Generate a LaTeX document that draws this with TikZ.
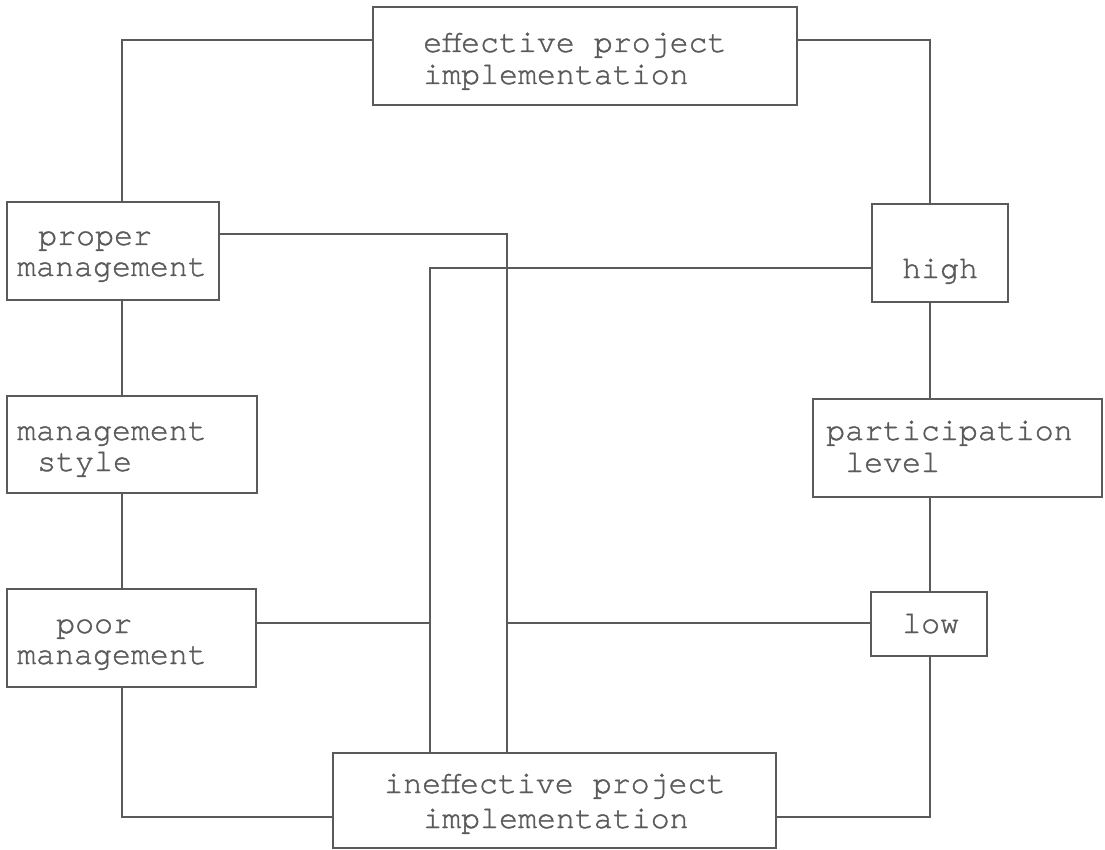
\documentclass[tikz,border=0pt]{standalone}
\usepackage{fontspec}
\newfontfamily\tw{texgyrecursor-regular.otf}[FakeBold=1.2]
\definecolor{ink}{HTML}{5A5A5A}
\begin{document}
\begin{tikzpicture}[x=1pt,y=-1pt,
  box/.style={draw=ink, line width=1.8pt, rectangle, inner sep=0pt, outer sep=0pt},
  txt/.style={anchor=base west, inner sep=0pt, text=ink, font=\tw\fontsize{31.6}{32}\selectfont},
  wire/.style={draw=ink, line width=1.8pt}]
\useasboundingbox (0,0) rectangle (1105,850);
\fill[white] (0,0) rectangle (1105,850);
% boxes
\node[box, minimum width=424pt, minimum height=98pt] (eff) at (585,56) {};
\node[box, minimum width=212pt, minimum height=98pt] (prop) at (113,251) {};
\node[box, minimum width=250pt, minimum height=97pt] (mstyle) at (132,444.5) {};
\node[box, minimum width=249pt, minimum height=98pt] (poor) at (131.5,638) {};
\node[box, minimum width=136pt, minimum height=98pt] (high) at (940,253) {};
\node[box, minimum width=289pt, minimum height=98pt] (part) at (957.5,448) {};
\node[box, minimum width=116pt, minimum height=64pt] (low) at (929,624) {};
\node[box, minimum width=443pt, minimum height=95pt] (ineff) at (554.5,800.5) {};
% texts
\node[txt] (effA) at (423,52) {effective project};
\node[txt] (effB) at (423,84) {implementation};
\node[txt] (propA) at (38,245) {proper};
\node[txt] (propB) at (17,276) {management};
\node[txt] (msA) at (17,440) {management};
\node[txt] (msB) at (37,471) {style};
\node[txt] (poorA) at (56,633) {poor};
\node[txt] (poorB) at (17,664) {management};
\node[txt] (highA) at (902,278) {high};
\node[txt] (partA) at (826,440) {participation};
\node[txt] (partB) at (845,472) {level};
\node[txt] (lowA) at (902,633) {low};
\node[txt] (inA) at (384,793) {ineffective project};
\node[txt] (inB) at (423,828) {implementation};
% helper coordinates
\coordinate (colL) at (122,0);
\coordinate (colR) at (930,0);
\coordinate (colA) at (430,0);
\coordinate (colB) at (507,0);
\coordinate (rowTop) at (0,40);
\coordinate (rowBot) at (0,817);
\coordinate (rowProp) at (0,234);
\coordinate (rowHigh) at (0,268);
\coordinate (rowLow) at (0,623);
% connectors
\draw[wire] (eff.west |- rowTop) -| (prop.north -| colL);
\draw[wire] (eff.east |- rowTop) -| (high.north -| colR);
\draw[wire] (prop.south -| colL) -- (mstyle.north -| colL);
\draw[wire] (mstyle.south -| colL) -- (poor.north -| colL);
\draw[wire] (poor.south -| colL) |- (ineff.west |- rowBot);
\draw[wire] (high.south -| colR) -- (part.north -| colR);
\draw[wire] (part.south -| colR) -- (low.north -| colR);
\draw[wire] (low.south -| colR) |- (ineff.east |- rowBot);
\draw[wire] (prop.east |- rowProp) -| (ineff.north -| colB);
\draw[wire] (high.west |- rowHigh) -| (ineff.north -| colA);
\draw[wire] (poor.east |- rowLow) -- (colA |- rowLow);
\draw[wire] (low.west |- rowLow) -- (colB |- rowLow);
\end{tikzpicture}
\end{document}
